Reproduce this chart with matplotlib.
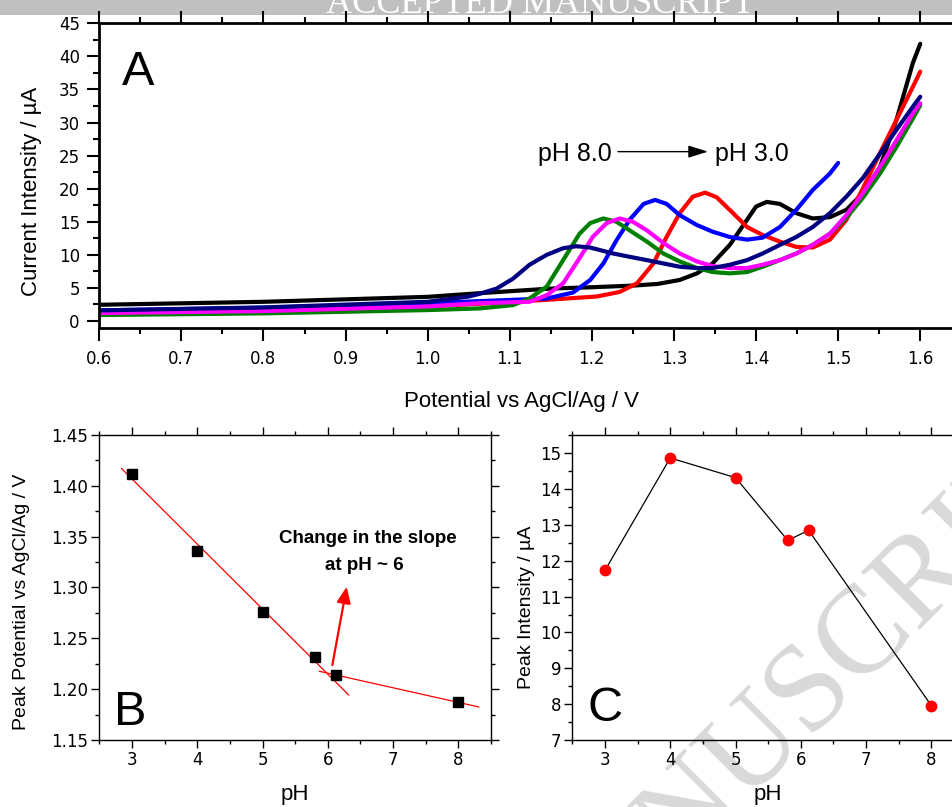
import matplotlib
matplotlib.use('Agg')
import matplotlib.pyplot as plt
from matplotlib.patches import Rectangle
from matplotlib.ticker import MultipleLocator
import numpy as np

plt.rcParams['font.family'] = ['Liberation Sans', 'DejaVu Sans']

# --- panel A: voltammograms, potential (V) / current (uA) ---
E_ph3 = [0.60, 0.80, 1.00, 1.063, 1.10, 1.15, 1.20, 1.25, 1.28, 1.307, 1.328, 1.347, 1.368, 1.389,
         1.400, 1.413, 1.429, 1.449, 1.469, 1.490, 1.510, 1.530, 1.551, 1.571, 1.591, 1.600]
I_ph3 = [2.45, 2.9, 3.65, 4.2, 4.5, 4.9, 5.1, 5.35, 5.6, 6.2, 7.2, 8.7, 11.5, 15.3,
         17.3, 18.0, 17.7, 16.3, 15.5, 15.7, 16.8, 19.3, 23.3, 30.4, 39.0, 41.9]

E_ph4 = [0.60, 0.80, 1.00, 1.063, 1.145, 1.206, 1.234, 1.255, 1.275, 1.291, 1.307, 1.323, 1.338,
         1.352, 1.372, 1.389, 1.408, 1.429, 1.449, 1.469, 1.490, 1.510, 1.530, 1.551, 1.571, 1.591, 1.600]
I_ph4 = [1.3, 1.6, 2.2, 2.6, 3.2, 3.7, 4.4, 5.7, 8.7, 12.7, 16.3, 18.8, 19.4,
         18.7, 16.3, 14.2, 13.0, 12.0, 11.2, 11.1, 12.3, 15.3, 20.0, 25.4, 30.4, 35.4, 37.7]

E_ph5 = [0.60, 0.80, 1.00, 1.063, 1.145, 1.177, 1.198, 1.214, 1.230, 1.246, 1.263, 1.277, 1.291,
         1.307, 1.328, 1.347, 1.368, 1.389, 1.408, 1.429, 1.449, 1.469, 1.490, 1.500]
I_ph5 = [1.6, 2.0, 2.7, 3.0, 3.4, 4.3, 6.2, 8.7, 12.2, 15.3, 17.7, 18.3, 17.7,
         16.0, 14.5, 13.5, 12.7, 12.3, 12.6, 14.2, 16.8, 19.8, 22.3, 23.9]

E_ph58 = [0.60, 0.80, 1.00, 1.063, 1.124, 1.145, 1.165, 1.185, 1.201, 1.218, 1.234, 1.250, 1.267,
          1.287, 1.307, 1.328, 1.347, 1.368, 1.389, 1.408, 1.429, 1.449, 1.469, 1.490, 1.510,
          1.530, 1.551, 1.571, 1.591, 1.600]
I_ph58 = [1.2, 1.5, 2.2, 2.7, 2.9, 3.9, 5.7, 9.5, 12.7, 14.8, 15.5, 15.0, 13.7,
          11.8, 10.2, 9.0, 8.3, 8.0, 8.0, 8.5, 9.2, 10.2, 11.5, 13.2, 16.0,
          19.3, 23.3, 27.3, 31.4, 32.9]

E_ph61 = [0.60, 0.80, 1.00, 1.063, 1.104, 1.124, 1.145, 1.165, 1.185, 1.198, 1.214, 1.230, 1.246,
          1.267, 1.287, 1.307, 1.328, 1.347, 1.368, 1.389, 1.408, 1.429, 1.449, 1.469, 1.490,
          1.510, 1.530, 1.551, 1.571, 1.591, 1.600]
I_ph61 = [0.9, 1.15, 1.65, 1.9, 2.4, 3.4, 5.2, 9.2, 13.2, 14.8, 15.5, 15.0, 13.7,
          12.0, 10.2, 9.0, 8.0, 7.4, 7.2, 7.4, 8.2, 9.2, 10.2, 11.5, 13.2,
          15.6, 18.6, 22.3, 26.3, 30.6, 32.6]

E_ph8 = [0.60, 0.80, 1.00, 1.050, 1.063, 1.084, 1.104, 1.124, 1.145, 1.165, 1.181, 1.198, 1.226,
         1.246, 1.267, 1.287, 1.307, 1.328, 1.347, 1.368, 1.389, 1.408, 1.429, 1.449, 1.469,
         1.490, 1.510, 1.530, 1.551, 1.571, 1.591, 1.600]
I_ph8 = [1.6, 2.05, 2.9, 3.7, 4.1, 4.9, 6.4, 8.5, 10.0, 11.0, 11.3, 11.1, 10.2,
         9.7, 9.2, 8.7, 8.2, 8.0, 8.0, 8.5, 9.2, 10.2, 11.5, 12.7, 14.2,
         16.3, 18.8, 21.6, 25.3, 28.9, 32.4, 33.9]

curves = [(E_ph3, I_ph3, 'black'), (E_ph4, I_ph4, 'red'), (E_ph5, I_ph5, 'blue'),
          (E_ph61, I_ph61, 'green'), (E_ph58, I_ph58, 'magenta'), (E_ph8, I_ph8, 'navy')]

# --- panels B and C ---
ph = [3.0, 4.0, 5.0, 5.8, 6.12, 8.0]
peak_E = [1.412, 1.336, 1.276, 1.232, 1.214, 1.187]
peak_I = [11.73, 14.87, 14.32, 12.57, 12.85, 7.96]

W, H = 953, 807
fig = plt.figure(figsize=(W / 100, H / 100), dpi=100)

# header strip + watermark
fig.patches.append(Rectangle((0, 1 - 15 / H), 1, 15 / H, transform=fig.transFigure,
                             facecolor='#c0c0c0', edgecolor='none', zorder=-5))
fig.text(540 / W, 1 - 13 / H, 'ACCEPTED MANUSCRIPT', color='white', fontsize=26,
         family='Liberation Serif', ha='center', va='baseline', zorder=-4)
fig.text(585 / W, 1 - 965 / H, 'ACCEPTED MANUSCRIPT', color='#d9d9d9', fontsize=90,
         family='Liberation Serif', ha='center', va='baseline', rotation=45,
         rotation_mode='anchor', zorder=-3)

tickfont = dict(family='DejaVu Sans', size=12)

# ---------------- A ----------------
axA = fig.add_axes([99.3 / W, 1 - 328 / H, 862 / W, 304.7 / H])
axA.patch.set_alpha(0)
for E, I, c in curves:
    axA.plot(E, I, color=c, lw=3, solid_capstyle='round', solid_joinstyle='round')
axA.set_xlim(0.6, 1.65)
axA.set_ylim(-1.06, 45)
axA.xaxis.set_major_locator(MultipleLocator(0.1))
axA.xaxis.set_minor_locator(MultipleLocator(0.05))
axA.yaxis.set_major_locator(MultipleLocator(5))
axA.yaxis.set_minor_locator(MultipleLocator(2.5))
axA.xaxis.set_major_formatter(matplotlib.ticker.FormatStrFormatter('%.1f'))
for s in axA.spines.values():
    s.set_linewidth(2)
axA.tick_params(which='major', length=9, width=1.5, direction='out', pad=5)
axA.tick_params(which='minor', length=4.5, width=1.5, direction='out')
axA.tick_params(axis='x', which='major', pad=7)
axA.tick_params(top=True, which='both', labeltop=False)
axA.tick_params(axis='x', which='both', top=True, length=3)
axA.tick_params(axis='x', which='major', bottom=True, length=9)
axA.tick_params(axis='x', which='minor', bottom=True, length=4.5)
for lab in axA.get_xticklabels() + axA.get_yticklabels():
    lab.set_fontproperties(matplotlib.font_manager.FontProperties(**tickfont))
axA.text(1.1343, 24.2, 'pH 8.0', fontsize=18, ha='left', va='baseline')
axA.text(1.3499, 24.2, 'pH 3.0', fontsize=18, ha='left', va='baseline')
axA.annotate('', xy=(1.3414, 25.6), xytext=(1.2318, 25.6),
             arrowprops=dict(arrowstyle='-|>,head_length=0.8,head_width=0.25', color='black',
                             lw=1, mutation_scale=15, shrinkA=0, shrinkB=0))
fig.text(122 / W, 1 - 85 / H, 'A', fontsize=35, ha='left', va='baseline')
fig.text(521 / W, 1 - 407 / H, 'Potential vs AgCl/Ag / V', fontsize=16, ha='center', va='baseline')
fig.text(37 / W, 1 - 191.5 / H, 'Current Intensity / µA', fontsize=16, ha='center',
         va='baseline', rotation=90, rotation_mode='anchor')

# ---------------- B ----------------
axB = fig.add_axes([99.3 / W, 1 - 740 / H, 391.7 / W, 305 / H])
axB.patch.set_alpha(0)
fit1 = np.polyfit(ph[:4], peak_E[:4], 1)
fit2 = np.polyfit(ph[4:], peak_E[4:], 1)
x1 = np.array([2.84, 6.32])
x2 = np.array([5.87, 8.31])
axB.plot(x1, np.polyval(fit1, x1), color='red', lw=0.9)
axB.plot(x2, np.polyval(fit2, x2), color='red', lw=0.9)
axB.plot(ph, peak_E, 's', color='black', ms=6.5, zorder=3)
axB.set_xlim(2.5, 8.5)
axB.set_ylim(1.15, 1.45)
axB.xaxis.set_major_locator(MultipleLocator(1))
axB.xaxis.set_minor_locator(MultipleLocator(0.5))
axB.yaxis.set_major_locator(MultipleLocator(0.05))
axB.yaxis.set_minor_locator(MultipleLocator(0.025))
axB.yaxis.set_major_formatter(matplotlib.ticker.FormatStrFormatter('%.2f'))
axB.annotate('', xy=(6.29, 1.3008), xytext=(6.07, 1.2238),
             arrowprops=dict(arrowstyle='-|>,head_length=0.7,head_width=0.3', color='red',
                             lw=1.6, mutation_scale=14, shrinkA=0, shrinkB=0))
axB.text(6.61, 1.3435, 'Change in the slope', fontsize=13.5, fontweight='bold', ha='center', va='baseline')
axB.text(6.557, 1.3172, 'at pH ~ 6', fontsize=13.5, fontweight='bold', ha='center', va='baseline')
fig.text(114.5 / W, 1 - 725 / H, 'B', fontsize=35, ha='left', va='baseline')
fig.text(295 / W, 1 - 800 / H, 'pH', fontsize=16, ha='center', va='baseline')
fig.text(26 / W, 1 - 602 / H, 'Peak Potential vs AgCl/Ag / V', fontsize=14, ha='center',
         va='baseline', rotation=90, rotation_mode='anchor')

# ---------------- C ----------------
axC = fig.add_axes([572.3 / W, 1 - 740 / H, 391.7 / W, 305 / H])
axC.patch.set_alpha(0)
axC.plot(ph, peak_I, '-', color='black', lw=0.9)
axC.plot(ph, peak_I, 'o', color='red', ms=7.5, zorder=3)
axC.set_xlim(2.5, 8.5)
axC.set_ylim(7, 15.51)
axC.xaxis.set_major_locator(MultipleLocator(1))
axC.xaxis.set_minor_locator(MultipleLocator(0.5))
axC.yaxis.set_major_locator(MultipleLocator(1))
axC.yaxis.set_minor_locator(MultipleLocator(0.5))
fig.text(587.5 / W, 1 - 721 / H, 'C', fontsize=35, ha='left', va='baseline')
fig.text(768 / W, 1 - 800 / H, 'pH', fontsize=16, ha='center', va='baseline')
fig.text(531 / W, 1 - 607.5 / H, 'Peak Intensity / µA', fontsize=14, ha='center',
         va='baseline', rotation=90, rotation_mode='anchor')

for ax in (axB, axC):
    for s in ax.spines.values():
        s.set_linewidth(1)
    ax.tick_params(which='major', length=6, width=1, direction='out', pad=2)
    ax.tick_params(which='minor', length=3, width=1, direction='out')
    ax.tick_params(axis='both', which='both', top=True, right=True, labeltop=False, labelright=False)
    for lab in ax.get_xticklabels() + ax.get_yticklabels():
        lab.set_fontproperties(matplotlib.font_manager.FontProperties(**tickfont))

fig.savefig('out.png', dpi=100)
